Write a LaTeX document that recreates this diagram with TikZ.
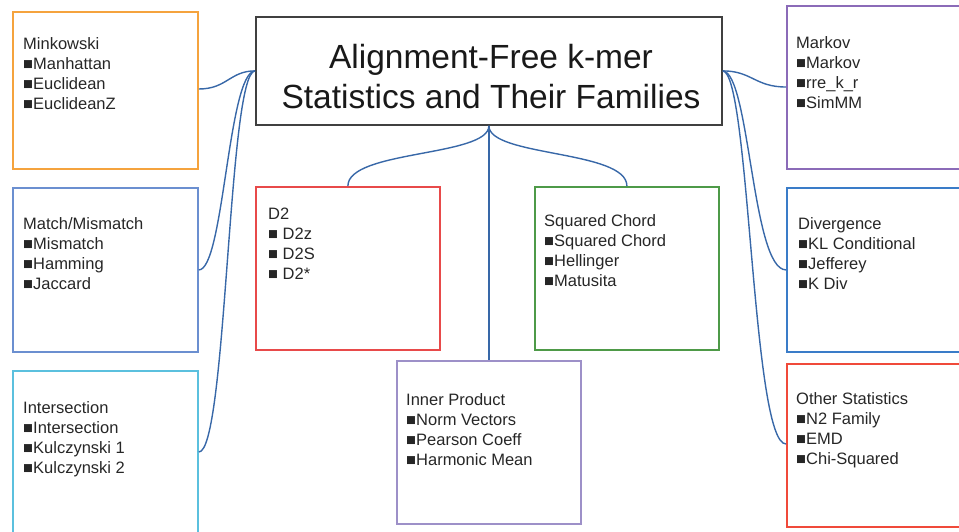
\documentclass[tikz,border=0pt]{standalone}
\usepackage{fontspec}
\setmainfont{Liberation Sans}
\begin{document}
\begin{tikzpicture}[x=1pt,y=-1pt,
  famfont/.style={font=\fontsize{16.5}{20}\selectfont},
  fambox/.style={draw=#1,line width=1.8pt,rectangle,minimum width=185pt,minimum height=163pt,anchor=north west,inner sep=0pt},
  famtext/.style={famfont,anchor=north west,align=left,inner sep=0pt,text=black!85},
  link/.style={draw=linkblue,line width=1.4pt}]
\definecolor{linkblue}{HTML}{3868A8}
\definecolor{cOrange}{HTML}{F5A33D}
\definecolor{cMatch}{HTML}{6B8FD0}
\definecolor{cInter}{HTML}{5BC0DE}
\definecolor{cDtwo}{HTML}{E84A4A}
\definecolor{cGreen}{HTML}{4E9A48}
\definecolor{cInner}{HTML}{9D90C8}
\definecolor{cMarkov}{HTML}{8B6BB8}
\definecolor{cDiv}{HTML}{3A7CC8}
\definecolor{cOther}{HTML}{F04A3A}
\useasboundingbox (0,0) rectangle (959,532);

% central title
\node[draw=black!75,line width=1.8pt,minimum width=466pt,minimum height=108pt,anchor=north west,inner sep=0pt] (title) at (255,16) {};
\node[font=\fontsize{33.5}{40}\selectfont,align=center,inner sep=0pt,text=black!90] (titleT) at (491,76.5) {Alignment-Free k-mer\\Statistics and Their Families};

% left column
\node[fambox=cOrange,minimum height=157pt] (mink) at (12,11) {};
\node[famtext] (minkT) at (23,37) {Minkowski\\■Manhattan\\■Euclidean\\■EuclideanZ};

\node[fambox=cMatch,minimum height=164pt] (match) at (12,187) {};
\node[famtext] (matchT) at (23,217) {Match/Mismatch\\■Mismatch\\■Hamming\\■Jaccard};

\node[fambox=cInter,minimum height=170pt] (inter) at (12,370) {};
\node[famtext] (interT) at (23,401) {Intersection\\■Intersection\\■Kulczynski 1\\■Kulczynski 2};

% middle column
\node[fambox=cDtwo,minimum width=184pt] (dtwo) at (255,186) {};
\node[famtext] (dtwoT) at (268,208) {D2\\■ D2z\\■ D2S\\■ D2*};

\node[fambox=cGreen,minimum width=184pt] (chord) at (534,186) {};
\node[famtext] (chordT) at (544,214) {Squared Chord\\■Squared Chord\\■Hellinger\\■Matusita};

\node[fambox=cInner,minimum width=184pt] (inner) at (396,360) {};
\node[famtext] (innerT) at (406,393) {Inner Product\\■Norm Vectors\\■Pearson Coeff\\■Harmonic Mean};

% right column
\node[fambox=cMarkov,minimum width=190pt] (markov) at (786,5) {};
\node[famtext] (markovT) at (796,36) {Markov\\■Markov\\■rre\_k\_r\\■SimMM};

\node[fambox=cDiv,minimum width=190pt,minimum height=164pt] (diverg) at (786,187) {};
\node[famtext] (divergT) at (798,217) {Divergence\\■KL Conditional\\■Jefferey\\■K Div};

\node[fambox=cOther,minimum width=190pt] (other) at (786,363) {};
\node[famtext] (otherT) at (796,392) {Other Statistics\\■N2 Family\\■EMD\\■Chi-Squared};

% connectors on the left
\path[link] (title.west) .. controls +(-25,0) and +(28,0) .. (mink.east |- 0,89);
\path[link] (title.west) .. controls +(-27,2) and +(25,0) .. (match.east);
\path[link] (title.west) .. controls +(-27,2) and +(28,0) .. (inter.east |- 0,452);

% connectors on the right
\path[link] (title.east) .. controls +(29,0) and +(-31,0) .. (markov.west |- 0,87);
\path[link] (title.east) .. controls +(27,2) and +(-34,0) .. (diverg.west);
\path[link] (title.east) .. controls +(27,2) and +(-34,0) .. (other.west |- 0,444);

% connectors below
\path[link] (title.south) .. controls +(0,31) and +(0,-36) .. (dtwo.north);
\path[link] (title.south) .. controls +(0,31) and +(0,-36) .. (chord.north);
\path[link] (title.south) -- (inner.north);
\end{tikzpicture}
\end{document}
